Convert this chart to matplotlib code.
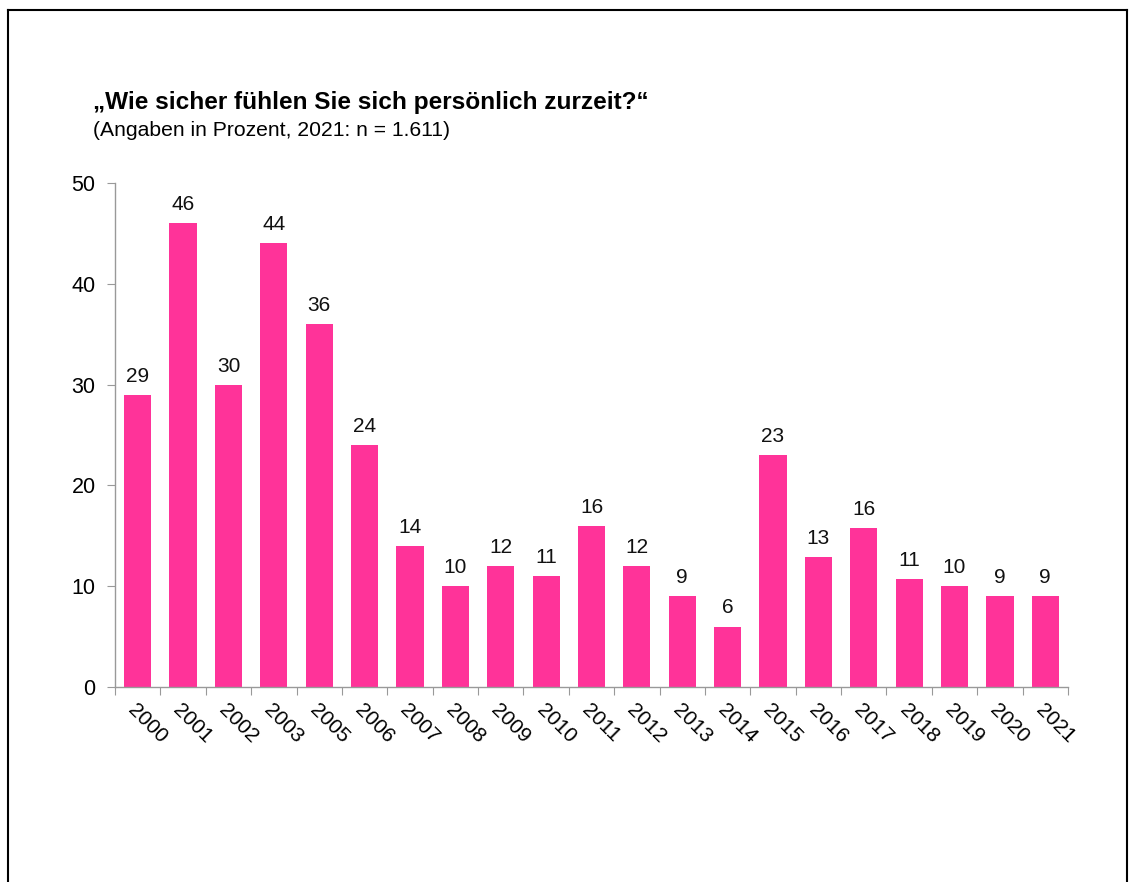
import matplotlib.pyplot as plt
from matplotlib.lines import Line2D
import numpy as np

plt.rcParams['font.family'] = ['Liberation Sans', 'DejaVu Sans']

# data
years = ['2000', '2001', '2002', '2003', '2005', '2006', '2007', '2008', '2009', '2010', '2011',
         '2012', '2013', '2014', '2015', '2016', '2017', '2018', '2019', '2020', '2021']
values = [29, 46, 30, 44, 36, 24, 14, 10, 12, 11, 16, 12, 9, 6, 23, 12.9, 15.8, 10.7, 10, 9, 9]
yticks = [0, 10, 20, 30, 40, 50]

W, H = 1130, 882
fig = plt.figure(figsize=(W / 100, H / 100), dpi=100)
ax = fig.add_axes([115 / W, 1 - 687 / H, (1068 - 115) / W, (687 - 183) / H])

x = np.arange(len(years))
ax.bar(x, values, width=0.6, color='#FF3399', zorder=2)
for xi, v in zip(x, values):
    ax.text(xi, v + 0.9, f'{v:.0f}', ha='center', va='bottom', fontsize=15, color='#111111')

ax.set_xlim(-0.5, len(years) - 0.5)
ax.set_ylim(0, 50)
ax.set_yticks(yticks)
ax.set_yticklabels([str(t) for t in yticks], fontsize=15.5)

# category ticks at the boundaries, labels centered under bars
ax.set_xticks(np.arange(len(years) + 1) - 0.5)
ax.set_xticklabels([])
ax.set_xticks(x, minor=True)
ax.set_xticklabels(years, minor=True, rotation=-45, ha='left', va='top',
                   rotation_mode='anchor', fontsize=15)
ax.tick_params(axis='x', which='minor', length=0, pad=10)
ax.tick_params(axis='x', which='major', length=6, color='#999999', direction='out')
ax.tick_params(axis='y', length=6, color='#999999', pad=8)

for s in ['top', 'right']:
    ax.spines[s].set_visible(False)
for s in ['left', 'bottom']:
    ax.spines[s].set_color('#999999')
    ax.spines[s].set_linewidth(1)

fig.text(93 / W, 1 - 103 / H, '„Wie sicher fühlen Sie sich persönlich zurzeit?“',
         fontsize=17.6, fontweight='bold', ha='left', va='center')
fig.text(93 / W, 1 - 130 / H, '(Angaben in Prozent, 2021: n = 1.611)',
         fontsize=15.2, ha='left', va='center')

# frame around the slide (no bottom line)
fx0, fx1, fy1 = 8 / W, 1127 / W, 1 - 10 / H
for xs, ys in [([fx0, fx0], [0, fy1]), ([fx0, fx1], [fy1, fy1]), ([fx1, fx1], [fy1, 0])]:
    fig.add_artist(Line2D(xs, ys, transform=fig.transFigure, color='black', linewidth=1.5))

fig.savefig('out.png', dpi=100)
